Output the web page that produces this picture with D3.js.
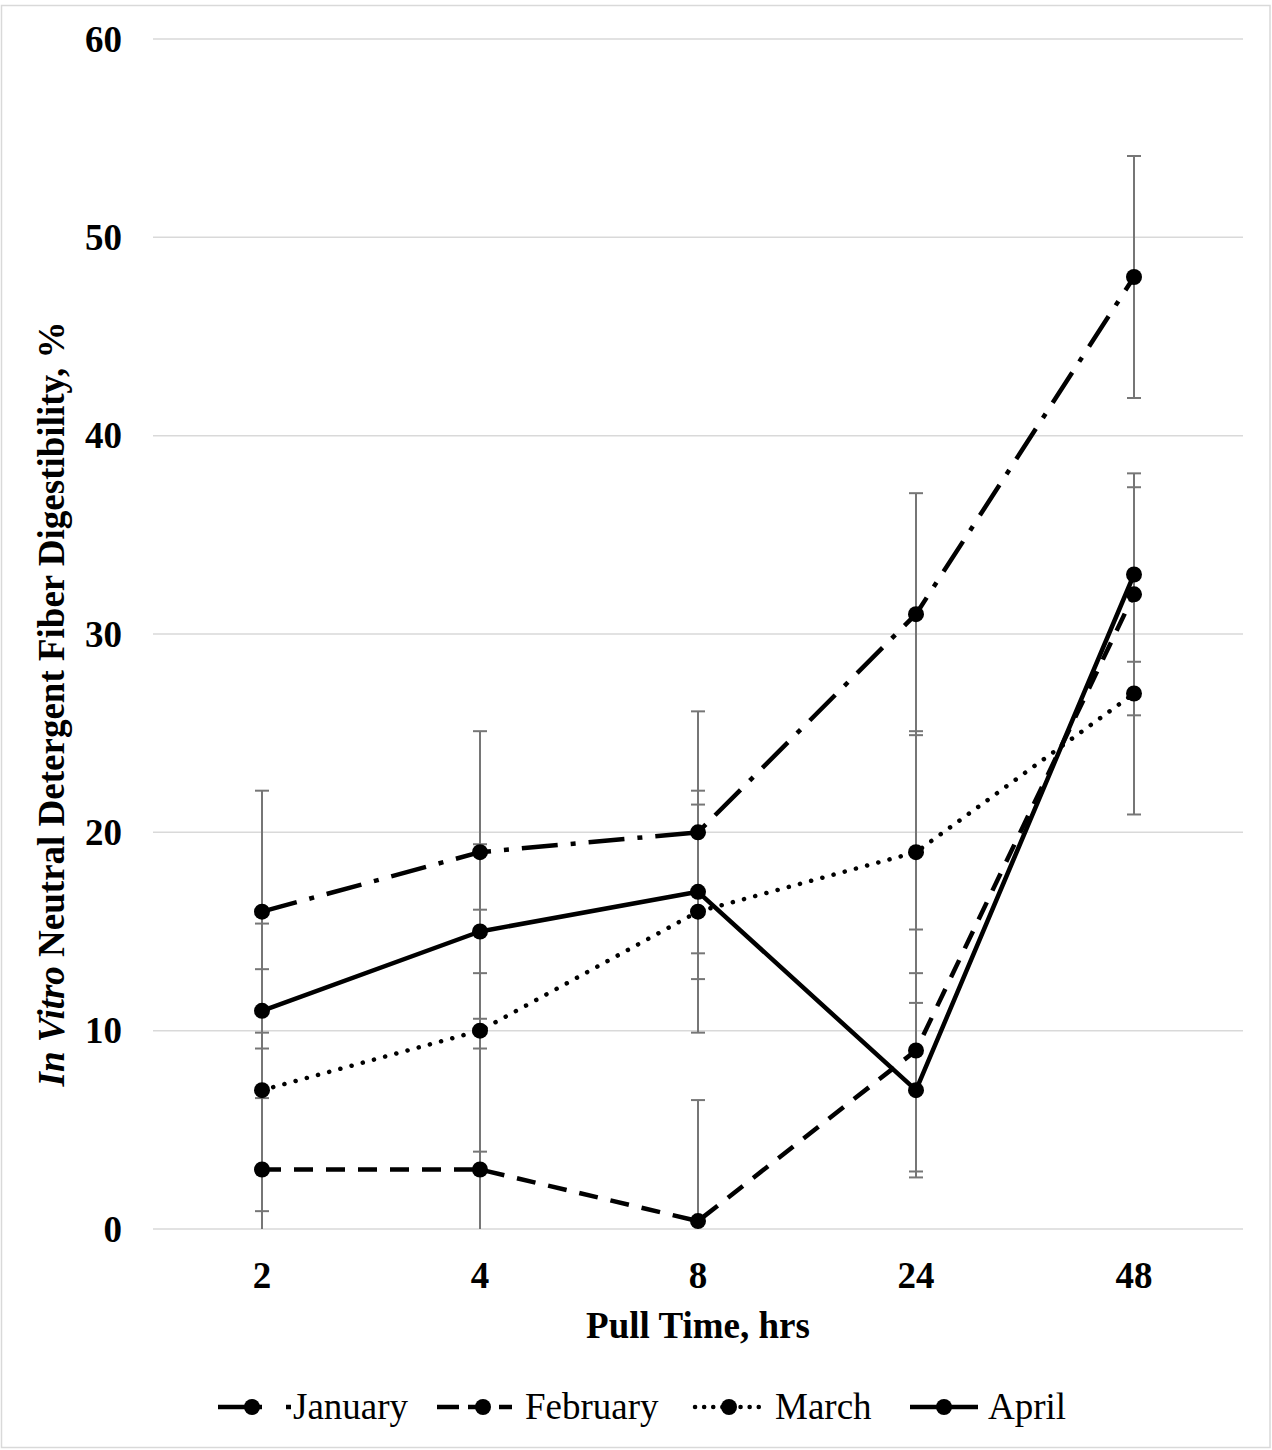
<!DOCTYPE html>
<html>
<head>
<meta charset="utf-8">
<script src="https://cdn.jsdelivr.net/npm/d3@7"></script>
<style>
  body { margin: 0; background: #fff; }
  text { font-family: "Liberation Serif", "Times New Roman", serif; fill: #000; }
</style>
</head>
<body>
<div id="chart"></div>
<script>
// pull times (hrs) and digestibility values, %
var categories = ["2", "4", "8", "24", "48"];
var january  = [16, 19, 20, 31, 48];
var february = [3, 3, 0.4, 9, 32];
var march    = [7, 10, 16, 19, 27];
var april    = [11, 15, 17, 7, 33];
var janErr = [6.1, 6.1, 6.1, 6.1, 6.1];
var febErr = [6.1, 6.1, 6.1, 6.1, 6.1];
var marErr = [6.1, 6.1, 6.1, 6.1, 6.1];
var aprErr = [4.4, 4.4, 4.4, 4.4, 4.4];
var seriesNames = ["January", "February", "March", "April"];
var yTicks = [0, 10, 20, 30, 40, 50, 60];

var W = 1272, H = 1450;
var plot = {left: 153, right: 1243, top: 39, bottom: 1229};

var series = [
  {name: seriesNames[0], values: january,  err: janErr, dash: "36,13,5,13", cap: "butt",
   lgDash: "44,24,5,40", lgLen: 73, lgMark: 34},
  {name: seriesNames[1], values: february, err: febErr, dash: "19,13", cap: "butt",
   lgDash: "22,9", lgLen: 75, lgMark: 46},
  {name: seriesNames[2], values: march,    err: marErr, dash: "0.1,11.5", cap: "round",
   lgDash: "0.1,9", lgLen: 67, lgMark: 34},
  {name: seriesNames[3], values: april,    err: aprErr, dash: null, cap: "butt",
   lgDash: null, lgLen: 68, lgMark: 34}
];

var svg = d3.select("#chart").append("svg")
    .attr("width", W)
    .attr("height", H);

svg.append("rect")
    .attr("x", 1.5).attr("y", 5.5)
    .attr("width", W - 3.5).attr("height", H - 8)
    .attr("fill", "#fff")
    .attr("stroke", "#d9d9d9")
    .attr("stroke-width", 1.5);

var x = d3.scaleBand()
  .domain(categories)
  .range([plot.left, plot.right]);

var y = d3.scaleLinear()
  .domain([0, 60])
  .range([plot.bottom, plot.top]);

// gridlines
svg.append("g")
  .selectAll("line")
  .data(yTicks)
  .enter().append("line")
    .attr("x1", plot.left).attr("x2", plot.right)
    .attr("y1", function(d) { return y(d); })
    .attr("y2", function(d) { return y(d); })
    .attr("stroke", "#d9d9d9")
    .attr("stroke-width", 1.5);

// y tick labels
svg.append("g")
  .selectAll("text")
  .data(yTicks)
  .enter().append("text")
    .attr("x", 122)
    .attr("y", function(d) { return y(d); })
    .attr("dy", "0.34em")
    .attr("text-anchor", "end")
    .style("font-size", "37px")
    .style("font-weight", "bold")
    .text(function(d) { return d; });

// x tick labels
svg.append("g")
  .selectAll("text")
  .data(categories)
  .enter().append("text")
    .attr("x", function(d) { return x(d) + x.bandwidth() / 2; })
    .attr("y", 1288)
    .attr("text-anchor", "middle")
    .style("font-size", "37px")
    .style("font-weight", "bold")
    .text(function(d) { return d; });

svg.append("text")
  .attr("x", (plot.left + plot.right) / 2)
  .attr("y", 1338)
  .attr("text-anchor", "middle")
  .style("font-size", "37px")
  .style("font-weight", "bold")
  .text("Pull Time, hrs");

var ylab = svg.append("text")
  .attr("transform", "translate(64,704) rotate(-90)")
  .attr("text-anchor", "middle")
  .style("font-size", "37px")
  .style("font-weight", "bold");
ylab.append("tspan").style("font-style", "italic").text("In Vitro");
ylab.append("tspan").text(" Neutral Detergent Fiber Digestibility, %");

svg.append("clipPath").attr("id", "plotclip")
  .append("rect")
    .attr("x", plot.left).attr("y", plot.top - 20)
    .attr("width", plot.right - plot.left)
    .attr("height", plot.bottom - plot.top + 20);

var cx = function(d, i) { return x(categories[i]) + x.bandwidth() / 2; };

// error bars
var eb = svg.append("g").attr("clip-path", "url(#plotclip)");
series.forEach(function(s) {
  var g = eb.append("g");
  s.values.forEach(function(v, i) {
    var px = cx(v, i), hi = y(v + s.err[i]), lo = y(v - s.err[i]);
    g.append("line")
      .attr("x1", px).attr("x2", px).attr("y1", hi).attr("y2", lo)
      .attr("stroke", "#767676").attr("stroke-width", 2);
    [hi, lo].forEach(function(yy) {
      g.append("line")
        .attr("x1", px - 7).attr("x2", px + 7).attr("y1", yy).attr("y2", yy)
        .attr("stroke", "#767676").attr("stroke-width", 2);
    });
  });
});

var line = d3.line()
  .x(cx)
  .y(function(d) { return y(d); });

series.forEach(function(s) {
  svg.append("path")
    .datum(s.values)
    .attr("d", line)
    .attr("fill", "none")
    .attr("stroke", "#000")
    .attr("stroke-width", 4.5)
    .attr("stroke-linecap", s.cap)
    .attr("stroke-linejoin", "round")
    .attr("stroke-dasharray", s.dash);
  svg.append("g")
    .selectAll("circle")
    .data(s.values)
    .enter().append("circle")
      .attr("cx", cx)
      .attr("cy", function(d) { return y(d); })
      .attr("r", 8)
      .attr("fill", "#000");
});

// legend
var legendX = [218, 437, 695, 910];
var legendText = [293, 525, 775, 988];
var lg = svg.append("g");
series.forEach(function(s, i) {
  var x0 = legendX[i], ly = 1407;
  lg.append("line")
    .attr("x1", x0).attr("x2", x0 + s.lgLen)
    .attr("y1", ly).attr("y2", ly)
    .attr("stroke", "#000")
    .attr("stroke-width", 4.5)
    .attr("stroke-linecap", s.cap)
    .attr("stroke-dasharray", s.lgDash);
  lg.append("circle")
    .attr("cx", x0 + s.lgMark).attr("cy", ly).attr("r", 8).attr("fill", "#000");
  lg.append("text")
    .attr("x", legendText[i]).attr("y", ly + 12)
    .style("font-size", "37px")
    .text(s.name);
});
</script>
</body>
</html>
